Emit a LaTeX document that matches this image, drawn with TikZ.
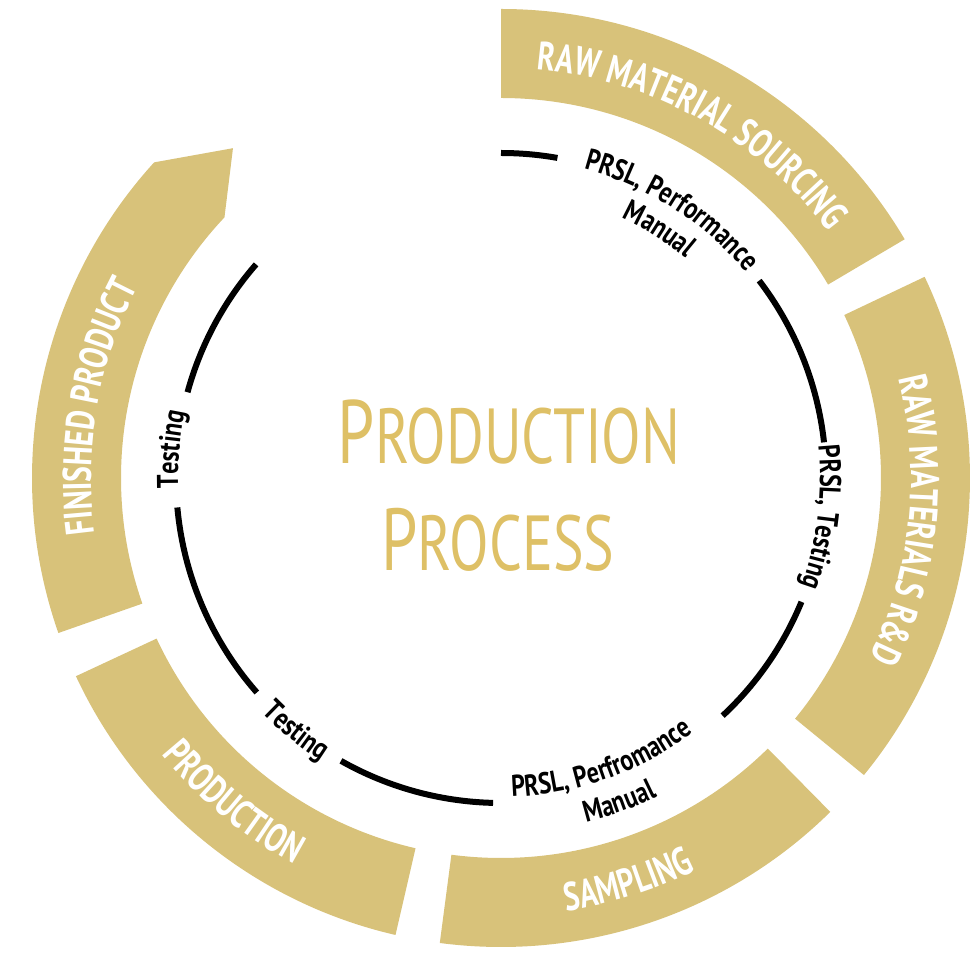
\documentclass[tikz,border=0pt]{standalone}
\usepackage{fontspec}
\usepackage{xcolor}
\usepackage{tikz}
\usetikzlibrary{decorations.text}
\definecolor{ringgold}{RGB}{216,194,122}
\definecolor{handgold}{RGB}{222,192,102}
\newfontfamily\segfamily[FakeStretch=0.74]{PT Sans}
\newfontfamily\stepfamily[FakeStretch=0.8]{PT Sans}
\newfontfamily\handfamily[FakeStretch=0.74]{PT Sans}
\newcommand{\Rin}{380}
\newcommand{\Rout}{469}
\newcommand{\Rloop}{325}

\begin{document}
\begin{tikzpicture}[x=1pt, y=1pt,
 ring/.style={fill=ringgold},
 cycleline/.style={line width=6pt, black},
 segtext/.style={decorate, decoration={text along path, text align=center, text color=white,
   text={|\segfamily\bfseries\fontsize{40}{42}\selectfont|#1}}},
 steptext/.style={decorate, decoration={text along path, text align=center, text color=black,
   text={|\stepfamily\bfseries\fontsize{30}{32}\selectfont|#1}}},
 titletext/.style={text=handgold, font=\handfamily\fontsize{78}{80}\selectfont, inner sep=0pt}]
\useasboundingbox (-501,-474) rectangle (472,478);

% outer ring, one sector per stage
\fill[ring] (30.6:\Rin) arc[start angle=30.6, end angle=90, radius=\Rin] -- (90:\Rout) arc[start angle=90, end angle=30.6, radius=\Rout] -- cycle;
\fill[ring] (-39.3:\Rin) arc[start angle=-39.3, end angle=25.4, radius=\Rin] -- (25.4:\Rout) arc[start angle=25.4, end angle=-39.3, radius=\Rout] -- cycle;
\fill[ring] (-97.5:\Rin) arc[start angle=-97.5, end angle=-45.4, radius=\Rin] -- (-45.4:\Rout) arc[start angle=-45.4, end angle=-97.5, radius=\Rout] -- cycle;
\fill[ring] (-155:\Rin) arc[start angle=-155, end angle=-103, radius=\Rin] -- (-103:\Rout) arc[start angle=-103, end angle=-155, radius=\Rout] -- cycle;
% last sector ends in a point
\fill[ring] (137.7:\Rout) -- (129.1:425) -- (136.7:\Rin) arc[start angle=136.7, end angle=199.3, radius=\Rin] -- (199.3:\Rout) arc[start angle=199.3, end angle=137.7, radius=\Rout] -- cycle;

% stage names
\path[segtext={RAW MATERIAL SOURCING}] (101:410) arc[start angle=101, end angle=21, radius=410];
\path[segtext={RAW MATERIALS R{\&}D}] (40:410) arc[start angle=40, end angle=-52, radius=410];
\path[segtext={SAMPLING}] (-112:438) arc[start angle=-112, end angle=-33, radius=438];
\path[segtext={PRODUCTION}] (-170:438) arc[start angle=-170, end angle=-89, radius=438];
\path[segtext={FINISHED PRODUCT}] (215:410) arc[start angle=215, end angle=125, radius=410];

% inner circle, broken where the checks are written
\draw[cycleline] (80:\Rloop) arc[start angle=80, end angle=90, radius=\Rloop];
\draw[cycleline] (6.3:\Rloop) arc[start angle=6.3, end angle=37.4, radius=\Rloop];
\draw[cycleline] (-47:\Rloop) arc[start angle=-47, end angle=-22.4, radius=\Rloop];
\draw[cycleline] (-119.5:\Rloop) arc[start angle=-119.5, end angle=-91.4, radius=\Rloop];
\draw[cycleline] (-174.8:\Rloop) arc[start angle=-174.8, end angle=-138.7, radius=\Rloop];
\draw[cycleline] (138.9:\Rloop) arc[start angle=138.9, end angle=164.7, radius=\Rloop];

% checks between the stages
\path[steptext={PRSL, Performance}] (99:320) arc[start angle=99, end angle=16, radius=320];
\path[steptext={Manual}] (90:287) arc[start angle=90, end angle=25, radius=287];
\path[steptext={PRSL, Testing}] (30:319) arc[start angle=30, end angle=-44, radius=319];
\path[steptext={PRSL, Perfromance}] (-110:319) arc[start angle=-110, end angle=-31, radius=319];
\path[steptext={Manual}] (-100:355) arc[start angle=-100, end angle=-40, radius=355];
\path[steptext={Testing}] (-150:335) arc[start angle=-150, end angle=-108, radius=335];
\path[steptext={Testing}] (200:323) arc[start angle=200, end angle=150, radius=323];

% title in the middle
\node[titletext] (prod) at (8,46) {{\fontsize{90}{92}\selectfont P}RODUCTION};
\node[titletext] (proc) at (-3,-62) {{\fontsize{88}{90}\selectfont P}ROCESS};
\end{tikzpicture}
\end{document}
